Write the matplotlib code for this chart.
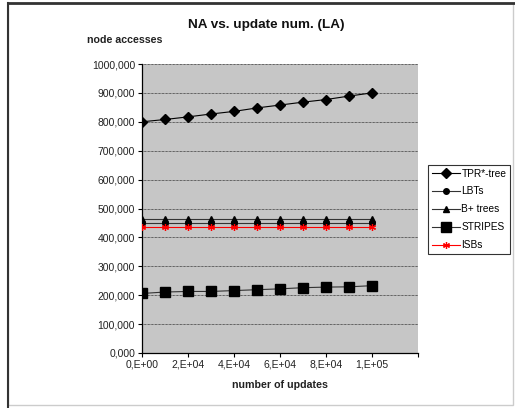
import matplotlib.pyplot as plt
from matplotlib.patches import Rectangle

plt.rcParams['font.family'] = ['Liberation Sans', 'DejaVu Sans']

# data
updates = [0, 10000, 20000, 30000, 40000, 50000, 60000, 70000, 80000, 90000, 100000]
tpr = [800, 808, 817, 827, 836, 848, 858, 868, 877, 889, 900]
lbts = [450] * 11
bplus = [464] * 11
stripes = [206, 211, 213, 213, 216, 219, 222, 226, 228, 229, 233]
isbs = [437] * 11

y_ticks = list(range(0, 1001, 100))
y_labels = ['%d,000' % v if v else '0,000' for v in y_ticks]
x_ticks = [0, 20000, 40000, 60000, 80000, 100000, 120000]
x_labels = ['0,E+00', '2,E+04', '4,E+04', '6,E+04', '8,E+04', '1,E+05', '']

fig = plt.figure(figsize=(5.15, 4.08), dpi=100)
ax = fig.add_axes([142 / 515, 1 - 353 / 408, 276 / 515, 289 / 408])
ax.set_facecolor('#c6c6c6')

ax.plot(updates, tpr, color='black', lw=0.8, marker='D', ms=5.5, label='TPR*-tree', zorder=3)
ax.plot(updates, lbts, color='#333333', lw=0.8, marker='o', ms=4, mfc='black', mec='black', label='LBTs', zorder=3)
ax.plot(updates, bplus, color='#333333', lw=0.8, marker='^', ms=4.5, mfc='black', mec='black', label='B+ trees', zorder=3)
ax.plot(updates, stripes, color='#333333', lw=0.8, marker='s', ms=7, mfc='black', mec='black', label='STRIPES', zorder=3)
ax.plot(updates, isbs, color='red', lw=0.8, marker=(6, 2, 0), ms=5, mec='red', mew=0.9, label='ISBs', zorder=3)

ax.set_xlim(0, 120000)
ax.set_ylim(0, 1000)
ax.set_xticks(x_ticks)
ax.set_xticklabels(x_labels, fontsize=7.5, color='#222222')
ax.set_yticks(y_ticks)
ax.set_yticklabels(y_labels, fontsize=7.5, color='#222222')
ax.tick_params(length=3, width=0.8, color='black', pad=2)
ax.grid(axis='y', color='black', linestyle=(0, (1, 1)), lw=0.5)
ax.set_axisbelow(True)
for s in ['top', 'right']:
    ax.spines[s].set_visible(False)
for s in ['left', 'bottom']:
    ax.spines[s].set_linewidth(0.9)

ax.set_xlabel('number of updates', fontsize=7.7, fontweight='bold', labelpad=7, color='#222222')
fig.text(266 / 515, 1 - 25 / 408, 'NA vs. update num. (LA)', ha='center', va='center',
         fontsize=9.7, fontweight='bold', color='#111111')
fig.text(87 / 515, 1 - 40 / 408, 'node accesses', ha='left', va='center',
         fontsize=7.7, fontweight='bold', color='#222222')

leg = fig.legend(loc='upper left', bbox_to_anchor=(428 / 515, 1 - 165 / 408), fontsize=7.3,
                 frameon=True, fancybox=False, edgecolor='black', borderpad=0.35,
                 handlelength=2.8, handletextpad=0.15, labelspacing=0.78, borderaxespad=0)
leg.get_frame().set_linewidth(0.8)

# outer frame
fig.patches.append(Rectangle((8 / 515, 3 / 408), 1 - 10 / 515, 1 - 6 / 408, transform=fig.transFigure,
                             fill=False, edgecolor='#cccccc', lw=1))
fig.add_artist(plt.Line2D([8 / 515, 1], [1 - 3 / 408, 1 - 3 / 408], color='#333333', lw=2,
                          transform=fig.transFigure))
fig.add_artist(plt.Line2D([8 / 515, 8 / 515], [0, 1 - 3 / 408], color='#333333', lw=1.5,
                          transform=fig.transFigure))

fig.savefig('out.png', dpi=100)
